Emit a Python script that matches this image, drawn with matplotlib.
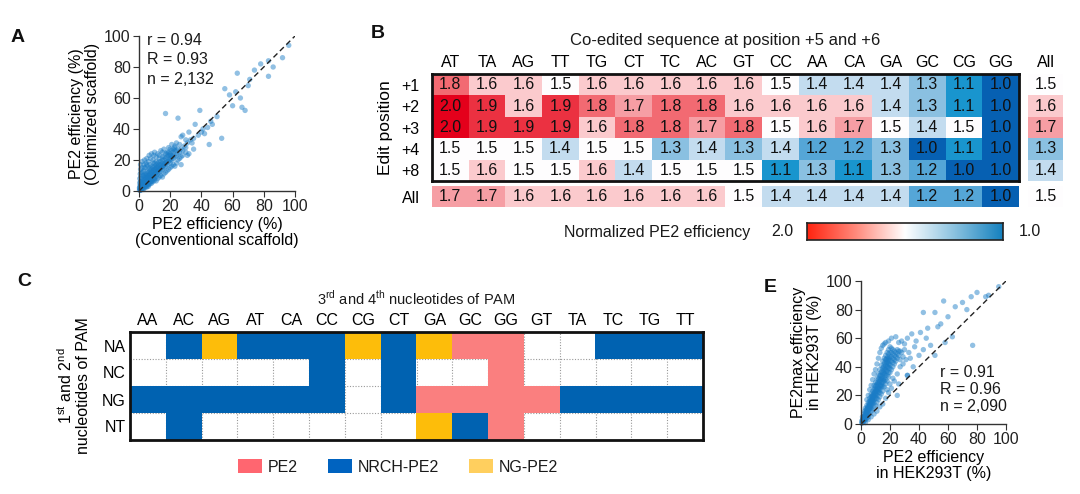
import numpy as np
import matplotlib
matplotlib.use('Agg')
import matplotlib.pyplot as plt
from matplotlib.colors import LinearSegmentedColormap, ListedColormap
from matplotlib.patches import Patch

plt.rcParams['font.family'] = ['Liberation Sans', 'DejaVu Sans']
plt.rcParams['mathtext.fontset'] = 'custom'
plt.rcParams['mathtext.rm'] = 'Liberation Sans'
plt.rcParams['text.color'] = '#1a1a1a'

W, H = 1080, 494

# ---- panel A : conventional vs optimized scaffold (approximate points) ----
a_pts = [(0.3,0.5),(0.5,1.5),(0.8,0.4),(1,1),(1,2.5),(1.2,3.5),(1.5,1),(1.5,4.5),(2,2),(2,5.5),
         (2.2,3),(2.5,1.5),(2.5,7),(3,3.5),(3,6),(3.2,9),(3.5,2.5),(3.5,5),(4,4),(4,7.5),(4.2,11),
         (4.5,3),(4.5,6),(5,5),(5,8.5),(5.2,12.5),(5.5,4),(5.5,7),(6,6),(6,10),(6.5,5),(6.5,8),
         (6.5,14),(7,7),(7,11),(7.5,6),(7.5,9),(8,8),(8,12),(8.5,16),(8.5,7),(9,9.5),(9,13),(9.5,8),
         (10,10),(10,14),(10,18),(10.5,11.5),(11,9.5),(11,15),(11.5,12.5),(12,11),(12,16),(12.5,13.5),
         (13,12),(13,17),(13.5,14.5),(14,13),(14,19),(14.5,15.5),(15,14),(15,18),(15.5,16.5),(16,15),
         (16,20),(16.5,17.5),(17,16),(17,21),(17.5,18.5),(18,17),(18,22),(19,19),(19,23),(20,18),
         (20,21),(20,24),(21,20),(21,23),(22,21),(22,25),(23,22),(23,26),(24,23),(25,24),(25,27),
         (26,25),(27,27),(28,26),(29,29),(30,28),(31,31),(33,33),(35,34),
         (0.5,3),(1,4),(1.5,6),(2,4),(2,8),(2.5,5),(3,4.5),(3,10),(3.5,7),(4,5.5),(4,9),(4.5,10),
         (5,6.5),(5,11),(5.5,9),(6,7.5),(6,12),(6.5,10),(7,8.5),(7,13),(7.5,11),(8,9.5),(8,14),
         (8.5,12),(9,10.5),(9,15),(9.5,13),(10,11),(10,16),(10.5,14),(11,12),(11,17),(11.5,15),
         (12,13),(12,18),(12.5,16),(13,14),(13,19),(14,15),(14,17),(15,16),(15,20),(16,17),(16,22),
         (17,18),(18,19),(18,24),(19,21),(20,20),(20,23),(21,22),(22,23),(1,0.5),(2,1),(4,2.5),
         (6,4),(8,6),(10,8),(0.3,2),(0.8,6),(1.3,9),(2.2,12),(3.5,15),(5,17),(7,15),(9,18),(11,19),
         (13,21),(15,22),(17,24),(19,25),(21,26),(22,27),(24,26),
         (0.5,5),(0.5,8),(0.8,11),(1,14),(1,17),(1.5,12),(2,15),(2,19),(2.5,10),(3,13),(3,17),
         (3.5,20),(4,15),(4.5,18),(5,21),(5.5,16),(6,19),(6.5,23),(7,17),(7.5,21),(8,24),(9,20),
         (9.5,23),(10,25),(11,22),(12,24),(13,23),(14,26),(15,25),(16,27),(18,25),(19,28),(20,27),
         (21,30),(23,29),(24,31),(26,30),
         (3,1),(5,2.5),(6,3),(7,4.5),(8,5),(9,6),(10,7),(11,6.5),(12,8),(13,9),(14,10),(15,9),
         (16,11),(17,12),(18,13),(19,14),(20,15),(21,16),(22,17),(23,16),(24,18),(25,20),(26,21),
         (27,22),(28,23),(30,25),(32,24),(27,17),(35,27),
         (17,50),(25,47),(27,35),(30,33),(34,31),(23,28),(31,23),(36,43),(39,52),(41,40),(42,37),
         (47,43),(53,34),(44,41),(40,38),(38,36),(55,66),(63,76),(65,60),(66,54),(68,52),(71,72),
         (74,78),(78,82),(83,84),(83,74),(92,86),(96,94),(46,45),(50,48),(58,62),(60,55),(62,64),
         (70,68),(86,80),(45,30),(32,38),(28,36)]
a_stats = ['r = 0.94', 'R = 0.93', 'n = 2,132']

# ---- panel B : normalized PE2 efficiency ----
b_cols = ['AT', 'TA', 'AG', 'TT', 'TG', 'CT', 'TC', 'AC', 'GT', 'CC', 'AA', 'CA', 'GA', 'GC', 'CG', 'GG']
b_rows = ['+1', '+2', '+3', '+4', '+8']
b_vals = [[1.8, 1.6, 1.6, 1.5, 1.6, 1.6, 1.6, 1.6, 1.6, 1.5, 1.4, 1.4, 1.4, 1.3, 1.1, 1.0],
          [2.0, 1.9, 1.6, 1.9, 1.8, 1.7, 1.8, 1.8, 1.6, 1.6, 1.6, 1.6, 1.4, 1.3, 1.1, 1.0],
          [2.0, 1.9, 1.9, 1.9, 1.6, 1.8, 1.8, 1.7, 1.8, 1.5, 1.6, 1.7, 1.5, 1.4, 1.5, 1.0],
          [1.5, 1.5, 1.5, 1.4, 1.5, 1.5, 1.3, 1.4, 1.3, 1.4, 1.2, 1.2, 1.3, 1.0, 1.1, 1.0],
          [1.5, 1.6, 1.5, 1.5, 1.6, 1.4, 1.5, 1.5, 1.5, 1.1, 1.3, 1.1, 1.3, 1.2, 1.0, 1.0]]
b_all_row = [1.7, 1.7, 1.6, 1.6, 1.6, 1.6, 1.6, 1.6, 1.5, 1.4, 1.4, 1.4, 1.4, 1.2, 1.2, 1.0]
b_all_col = [1.5, 1.6, 1.7, 1.3, 1.4]
b_all_all = 1.5

# ---- panel C : PAM compatibility (0 none, 1 PE2, 2 NRCH-PE2, 3 NG-PE2) ----
c_cols = ['AA', 'AC', 'AG', 'AT', 'CA', 'CC', 'CG', 'CT', 'GA', 'GC', 'GG', 'GT', 'TA', 'TC', 'TG', 'TT']
c_rows = ['NA', 'NC', 'NG', 'NT']
c_codes = [[0, 2, 3, 2, 2, 2, 3, 2, 3, 1, 1, 0, 0, 2, 2, 2],
           [0, 0, 0, 0, 0, 2, 0, 2, 0, 0, 1, 0, 0, 0, 0, 0],
           [2, 2, 2, 2, 2, 2, 0, 2, 1, 1, 1, 1, 2, 2, 2, 2],
           [0, 2, 0, 0, 0, 0, 0, 0, 3, 2, 1, 0, 0, 0, 0, 0]]
c_names = ['PE2', 'NRCH-PE2', 'NG-PE2']

# ---- panel E : PE2 vs PE2max in HEK293T (approximate points) ----
e_pts = [(0.5,0.5),(0.5,2),(1,1),(1,3),(1,5),(1.5,2),(1.5,4),(2,1.5),(2,3),(2,5),(2,7),(2.5,4),
         (2.5,6),(2.5,9),(3,3),(3,5),(3,8),(3,11),(3.5,6),(3.5,10),(4,4),(4,7),(4,9),(4,13),(4.5,8),
         (4.5,11),(5,5),(5,9),(5,12),(5,15),(5.5,10),(5.5,14),(6,7),(6,11),(6,14),(6,18),(6.5,12),
         (6.5,16),(7,9),(7,13),(7,17),(7,21),(7.5,15),(7.5,19),(8,10),(8,14),(8,18),(8,23),(8.5,16),
         (8.5,21),(9,12),(9,17),(9,22),(9,27),(9.5,19),(9.5,25),(10,13),(10,18),(10,23),(10,29),
         (10.5,21),(10.5,27),(11,15),(11,20),(11,25),(11,32),(11.5,23),(11.5,29),(12,17),(12,22),
         (12,28),(12,35),(12.5,25),(12.5,32),(13,19),(13,24),(13,30),(13,38),(13.5,27),(13.5,34),
         (14,21),(14,26),(14,32),(14,41),(14.5,29),(14.5,37),(15,23),(15,29),(15,35),(15,44),
         (15.5,31),(15.5,40),(16,26),(16,32),(16,38),(16,46),(16.5,35),(16.5,43),(17,28),(17,34),
         (17,41),(17,48),(17.5,37),(17.5,45),(18,30),(18,37),(18,43),(18,50),(18.5,40),(18.5,47),
         (19,33),(19,39),(19,45),(19,52),(19.5,42),(20,36),(20,41),(20,47),(20,54),(21,38),(21,44),
         (21,50),(22,40),(22,46),(22,52),(23,42),(23,48),(24,44),(24,50),(25,46),(25,52),(26,48),
         (27,45),(27,51),(28,50),(29,47),(30,52),
         (1,2),(1.5,3),(2,4),(2.5,5),(3,6.5),(3.5,8),(4,10),(4.5,12),(5,10.5),(5.5,12),(6,13),
         (6,16),(6.5,14),(7,15),(7,19),(7.5,17),(8,16),(8,20),(8.5,19),(9,20),(9,24),(9.5,22),
         (10,21),(10,26),(10.5,24),(11,23),(11,28),(11.5,26),(12,25),(12,31),(12.5,29),(13,27),
         (13,34),(13.5,31),(14,29),(14,36),(14.5,33),(15,32),(15,39),(15.5,36),(16,35),(16,42),
         (16.5,39),(17,38),(17,45),(17.5,42),(18,40),(18,46),(18.5,44),(19,42),(19,49),(19.5,46),
         (20,44),(20,50),(21,47),(21,53),(22,49),(23,45),(23,51),(24,47),(25,49),(26,51),(22,43),
         (20,39),(18,34),(16,30),(14,27),(12,24),(10,20),(8,17),(6,12),(4,8),(2,2.5),(3,4),(5,7),
         (7,11),(9,15),(11,18),(13,22),(15,26),(17,31),(19,36),
         (4,17),(5,20),(6,24),(7,27),(8,31),(9,35),(10,38),(11,42),(12,46),(13,50),(14,53),(15,55),
         (16,56),(17,57),(19,58),(21,60),(24,61),(26,57),(28,58),(30,56),
         (3,1),(5,3),(7,5),(9,7),(11,9),(13,12),(15,14),(17,18),(19,22),(21,25),(23,30),(25,35),
         (27,40),(29,42),(32,34),(26,28),(22,32),(20,28),(18,24),
         (76,89),(86,89),(57,86),(65,82),(51,78),(43,78),(73,80),(77,55),(46,67),(41,64),(53,68),
         (58,57),(63,61),(32,60),(37,54),(43,52),(34,46),(51,48),(32,34),(25,20),(95,96),(88,90),
         (35,63),(38,58),(45,60),(55,70),(48,55),(60,75),(33,50),(31,45),(40,48),(36,40),(70,85),
         (80,92)]
e_stats = ['r = 0.91', 'R = 0.96', 'n = 2,090']


def px(l, t, r, b):
    return [l / W, 1 - b / H, (r - l) / W, (b - t) / H]


fig = plt.figure(figsize=(W / 100, H / 100), dpi=100)

heat_cmap = LinearSegmentedColormap.from_list('heat', [
    (0.0, '#0660b2'), (0.1, '#1a97cf'), (0.2, '#55a6d7'), (0.3, '#8cc1e2'), (0.4, '#c3dcef'),
    (0.5, '#ffffff'), (0.6, '#fbcacd'), (0.7, '#f7a0a6'), (0.8, '#f26a72'), (0.9, '#ec3242'),
    (1.0, '#e4001b')])
pt_color = '#1a7cc6'


def scatter_panel(rect, pts, stats, stat_pos, xlabel, ylabel):
    ax = fig.add_axes(rect)
    pts = np.array(pts)
    ax.scatter(pts[:, 0], pts[:, 1], s=15, color=pt_color, alpha=0.48, edgecolors='none', clip_on=False)
    ax.axline((0, 0), slope=1, color='#222222', lw=1, ls=(0, (4, 2.5)))
    ax.set_xlim(0, 100)
    ax.set_ylim(0, 100)
    ax.set_xticks(range(0, 101, 20))
    ax.set_yticks(range(0, 101, 20))
    for s in ['top', 'right']:
        ax.spines[s].set_visible(False)
    for s in ['left', 'bottom']:
        ax.spines[s].set_color('#333333')
        ax.spines[s].set_linewidth(1)
    ax.tick_params(labelsize=11.5, length=4, color='#333333', labelcolor='#222222', pad=2)
    ax.set_xlabel(xlabel, fontsize=11.5, linespacing=1.1, labelpad=2)
    ax.set_ylabel(ylabel, fontsize=11.5, linespacing=1.1, labelpad=3)
    x0, ys = stat_pos
    for txt, y in zip(stats, ys):
        ax.text(x0, y, txt, transform=ax.transAxes, fontsize=11.5, va='center', ha='left')
    return ax


# panel A
scatter_panel(px(139, 36, 295, 191), a_pts, a_stats, (0.05, [0.97, 0.85, 0.72]),
              'PE2 efficiency (%)\n(Conventional scaffold)',
              'PE2 efficiency (%)\n(Optimized scaffold)')

# panel E
scatter_panel(px(861, 281, 1006, 424), e_pts, e_stats, (0.545, [0.36, 0.24, 0.12]),
              'PE2 efficiency\nin HEK293T (%)',
              'PE2max efficiency\nin HEK293T (%)')

# panel B main heatmap
bv = np.array(b_vals)
axb = fig.add_axes(px(432, 74, 1019, 181))
axb.imshow(bv, cmap=heat_cmap, vmin=1, vmax=2, aspect='auto')
for i in range(bv.shape[0]):
    for j in range(bv.shape[1]):
        axb.text(j, i, f'{bv[i, j]:.1f}', ha='center', va='center', fontsize=11.5, color='#111111')
axb.set_xticks(range(len(b_cols)))
axb.set_xticklabels(b_cols)
axb.set_yticks(range(len(b_rows)))
axb.set_yticklabels(b_rows)
axb.xaxis.tick_top()
axb.tick_params(length=0, labelsize=11.5, pad=3)
axb.tick_params(axis='y', pad=9)
for s in axb.spines.values():
    s.set_linewidth(2)
    s.set_color('#111111')
axb.set_ylabel('Edit position', fontsize=12.5, labelpad=6)
axb.set_title('Co-edited sequence at position +5 and +6', fontsize=12, pad=21)

# All row
axr = fig.add_axes(px(432, 186, 1019, 207))
axr.imshow(np.array([b_all_row]), cmap=heat_cmap, vmin=1, vmax=2, aspect='auto')
for j, v in enumerate(b_all_row):
    axr.text(j, 0, f'{v:.1f}', ha='center', va='center', fontsize=11.5, color='#111111')
axr.set_xticks([])
axr.set_yticks([0])
axr.set_yticklabels(['All'])
axr.tick_params(length=0, labelsize=11.5, pad=9)
for s in axr.spines.values():
    s.set_visible(False)

# All column
axc = fig.add_axes(px(1028, 74, 1063, 181))
axc.imshow(np.array(b_all_col).reshape(-1, 1), cmap=heat_cmap, vmin=1, vmax=2, aspect='auto')
for i, v in enumerate(b_all_col):
    axc.text(0, i, f'{v:.1f}', ha='center', va='center', fontsize=11.5, color='#111111')
axc.set_xticks([0])
axc.set_xticklabels(['All'])
axc.xaxis.tick_top()
axc.set_yticks([])
axc.tick_params(length=0, labelsize=11.5, pad=3)
for s in axc.spines.values():
    s.set_visible(False)

# All / All corner
axa = fig.add_axes(px(1028, 186, 1063, 207))
axa.imshow([[b_all_all]], cmap=heat_cmap, vmin=1, vmax=2, aspect='auto')
axa.text(0, 0, f'{b_all_all:.1f}', ha='center', va='center', fontsize=11.5, color='#111111')
axa.axis('off')

# colour bar
bar_cmap = LinearSegmentedColormap.from_list('bar', ['#ff2410', '#ff8a7c', '#ffffff', '#8cc3e0', '#1581bf'])
axbar = fig.add_axes(px(807, 223, 1003, 240))
axbar.imshow(np.linspace(0, 1, 256).reshape(1, -1), cmap=bar_cmap, aspect='auto')
axbar.set_xticks([])
axbar.set_yticks([])
for s in axbar.spines.values():
    s.set_linewidth(1.2)
    s.set_color('#222222')
fig.text(750 / W, 1 - 232 / H, 'Normalized PE2 efficiency', fontsize=11.5, ha='right', va='center')
fig.text(793 / W, 1 - 232 / H, '2.0', fontsize=11.5, ha='right', va='center')
fig.text(1019 / W, 1 - 232 / H, '1.0', fontsize=11.5, ha='left', va='center')

# panel C
cc = np.array(c_codes, dtype=float)
cc[cc == 0] = np.nan
pam_colors = ['#fa7f7f', '#0062b1', '#fdbd0a']
axp = fig.add_axes(px(130, 332, 703, 440))
for k in range(1, len(c_cols)):
    axp.axvline(k - 0.5, color='#999999', lw=0.8, ls=(0, (1, 1.5)), zorder=0.5)
for k in range(1, len(c_rows)):
    axp.axhline(k - 0.5, color='#999999', lw=0.8, ls=(0, (1, 1.5)), zorder=0.5)
axp.imshow(cc - 1, cmap=ListedColormap(pam_colors), vmin=-0.5, vmax=2.5, aspect='auto', zorder=1)
axp.set_xlim(-0.5, len(c_cols) - 0.5)
axp.set_ylim(len(c_rows) - 0.5, -0.5)
axp.set_xticks(range(len(c_cols)))
axp.set_xticklabels(c_cols)
axp.set_yticks(range(len(c_rows)))
axp.set_yticklabels(c_rows)
axp.xaxis.tick_top()
axp.tick_params(length=0, labelsize=11.5, pad=3)
for s in axp.spines.values():
    s.set_linewidth(2)
    s.set_color('#111111')
    s.set_zorder(3)
axp.set_title(r'3$^{\rm rd}$ and 4$^{\rm th}$ nucleotides of PAM', fontsize=10.5, pad=20)
axp.set_ylabel('1$^{\\rm st}$ and 2$^{\\rm nd}$\nnucleotides of PAM', fontsize=11.5,
               linespacing=1.1, labelpad=8)

handles = [Patch(facecolor=c, edgecolor='none', label=n)
           for c, n in zip(['#ff6670', '#0063c0', '#ffcf5e'], c_names)]
fig.legend(handles=handles, loc='center', bbox_to_anchor=(398 / W, 1 - 467 / H), ncol=3,
           frameon=False, fontsize=11.5, handlelength=1.5, handleheight=1.0,
           handletextpad=0.35, columnspacing=1.9)

# panel letters
for lab, x, y in [('A', 18, 38), ('B', 378, 33), ('C', 24, 281), ('E', 770, 288)]:
    fig.text(x / W, 1 - y / H, lab, fontsize=14, fontweight='bold', ha='center', va='center',
             color='#111111')

fig.savefig('out.png', dpi=100)
